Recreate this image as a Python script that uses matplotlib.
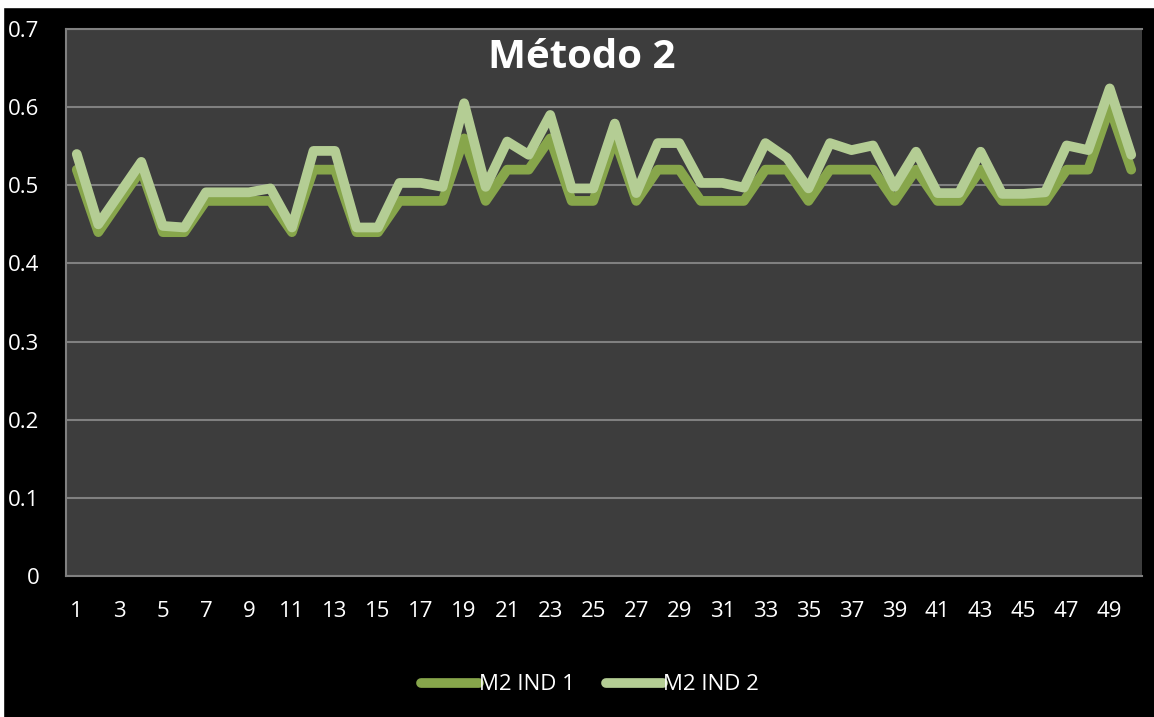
import matplotlib.pyplot as plt
from matplotlib.patches import Rectangle
import numpy as np

plt.rcParams['font.family'] = ['Open Sans', 'DejaVu Sans']

x = np.arange(1, 51)
ind1 = [0.52, 0.44, 0.48, 0.52, 0.44, 0.44, 0.48, 0.48, 0.48, 0.48,
        0.44, 0.52, 0.52, 0.44, 0.44, 0.48, 0.48, 0.48, 0.56, 0.48,
        0.52, 0.52, 0.56, 0.48, 0.48, 0.56, 0.48, 0.52, 0.52, 0.48,
        0.48, 0.48, 0.52, 0.52, 0.48, 0.52, 0.52, 0.52, 0.48, 0.52,
        0.48, 0.48, 0.52, 0.48, 0.48, 0.48, 0.52, 0.52, 0.60, 0.52]
ind2 = [0.54, 0.45, 0.49, 0.53, 0.448, 0.446, 0.491, 0.491, 0.491, 0.496,
        0.446, 0.544, 0.544, 0.446, 0.446, 0.503, 0.503, 0.498, 0.605, 0.498,
        0.556, 0.539, 0.59, 0.496, 0.496, 0.579, 0.49, 0.554, 0.554, 0.503,
        0.503, 0.497, 0.554, 0.535, 0.496, 0.554, 0.545, 0.551, 0.498, 0.543,
        0.49, 0.49, 0.543, 0.489, 0.489, 0.491, 0.551, 0.545, 0.624, 0.539]
labels = ['M2 IND 1', 'M2 IND 2']

fig = plt.figure(figsize=(11.54, 7.17), dpi=100, facecolor='black')
# thin white strip along top and left edges
fig.patches.append(Rectangle((0, 1 - 7/717), 1, 7/717, transform=fig.transFigure,
                             color='white', zorder=0))
fig.patches.append(Rectangle((0, 0), 3/1154, 1, transform=fig.transFigure,
                             color='white', zorder=0))

ax = fig.add_axes([66/1154, 1 - 576/717, (1142 - 66)/1154, (576 - 29)/717])
ax.set_facecolor('#3d3d3d')

ax.plot(x, ind1, color='#87a64b', lw=7, solid_joinstyle='round',
        solid_capstyle='round', label=labels[0], zorder=3)
ax.plot(x, ind2, color='#b4cd94', lw=7, solid_joinstyle='round',
        solid_capstyle='round', label=labels[1], zorder=4)

ax.set_xlim(0.5, 50.5)
ax.set_ylim(0, 0.7)
ax.set_xticks(np.arange(1, 51, 2))
ax.set_yticks(np.arange(0, 0.71, 0.1))
ax.set_yticklabels(['0', '0.1', '0.2', '0.3', '0.4', '0.5', '0.6', '0.7'])
ax.tick_params(length=0, colors='white', labelsize=16)
ax.tick_params(axis='x', pad=18)
ax.tick_params(axis='y', pad=19)
ax.grid(axis='y', color='#808080', lw=1.5)
ax.set_axisbelow(True)
for s in ['left', 'bottom', 'top']:
    ax.spines[s].set_color('#808080')
    ax.spines[s].set_linewidth(1.5)
ax.spines['right'].set_visible(False)

ax.text(0.479, 0.947, 'Método 2', transform=ax.transAxes, ha='center', va='center',
        color='white', fontsize=29, fontweight='bold')

leg = fig.legend(loc='center', bbox_to_anchor=(590/1154, 1 - 685/717), ncol=2,
                 frameon=False, fontsize=16, handlelength=2.6, handletextpad=0.0,
                 columnspacing=1.4, labelcolor='white')
for h in leg.legend_handles:
    h.set_linewidth(7)
    h.set_solid_capstyle('round')

fig.savefig('out.png', dpi=100, facecolor=fig.get_facecolor())
